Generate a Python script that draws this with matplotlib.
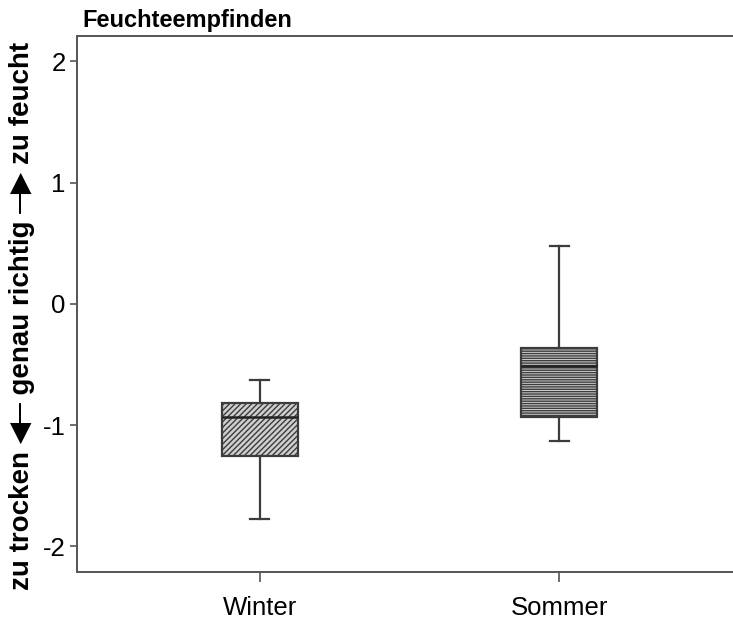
import matplotlib
matplotlib.use("Agg")
import matplotlib.pyplot as plt

plt.rcParams['font.family'] = ['Liberation Sans', 'DejaVu Sans']
plt.rcParams['hatch.linewidth'] = 1.0

categories = ["Winter", "Sommer"]
whisker_low = [-1.77, -1.13]
q1 = [-1.25, -0.93]
median = [-0.93, -0.51]
q3 = [-0.82, -0.36]
whisker_high = [-0.63, 0.48]
hatches = ["//////", "-------"]

title = "Feuchteempfinden"
ylabel = "zu trocken \u25C0\u2500 genau richtig \u2500\u25B6 zu feucht"
yticks = [-2, -1, 0, 1, 2]

dark = "#3c3c3c"

fig = plt.figure(figsize=(7.33, 6.21), dpi=100)
ax = fig.add_axes([0.105, 0.079, 0.895, 0.863])

stats = []
for i, c in enumerate(categories):
    stats.append(dict(label=c, whislo=whisker_low[i], q1=q1[i], med=median[i],
                      q3=q3[i], whishi=whisker_high[i], fliers=[]))

positions = [1, 2]
bp = ax.bxp(stats, positions=positions, widths=0.253, patch_artist=True,
            showfliers=False, capwidths=0.063,
            boxprops=dict(linewidth=1.6, edgecolor=dark),
            medianprops=dict(color="#222222", linewidth=1.8),
            whiskerprops=dict(color=dark, linewidth=1.6),
            capprops=dict(color=dark, linewidth=1.6))
for patch, h in zip(bp['boxes'], hatches):
    patch.set_facecolor("#cfcfcf")
    patch.set_hatch(h)
    patch.set_edgecolor(dark)

ax.set_xlim(0.39, 2.58)
ax.set_ylim(-2.21, 2.21)
ax.set_yticks(yticks)
ax.set_yticklabels([str(v) for v in yticks])
ax.set_xticks(positions)
ax.set_xticklabels(categories)

for s in ['left', 'bottom', 'top']:
    ax.spines[s].set_color("#555555")
    ax.spines[s].set_linewidth(1.4)
ax.spines['right'].set_visible(False)

ax.tick_params(axis='both', colors="#555555", labelcolor="black", width=1.2,
               labelsize=18.5)
ax.tick_params(axis='y', length=5, pad=3)
ax.tick_params(axis='x', length=7, pad=10)

ax.set_ylabel(ylabel, fontsize=20, fontweight='bold')
ax.yaxis.set_label_coords(-0.064, 0.478)
fig.text(0.112, 0.967, title, fontsize=17, fontweight='bold', ha='left', va='center')

fig.savefig("out.png", dpi=100)
